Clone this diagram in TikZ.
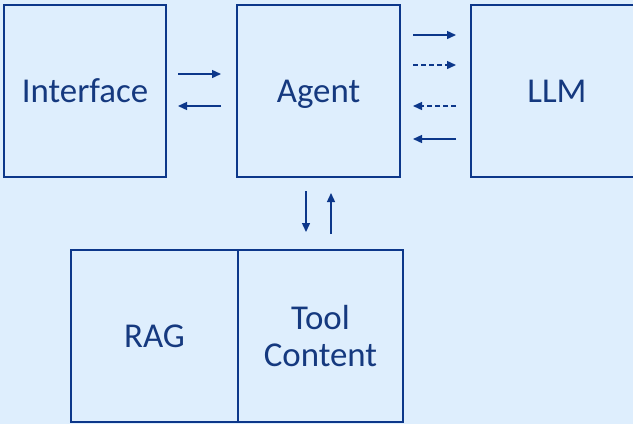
\documentclass[tikz,border=0pt]{standalone}
\usepackage{fontspec}
\setmainfont{Carlito}
\usetikzlibrary{arrows.meta}
\definecolor{bg}{HTML}{DEEEFD}
\definecolor{ln}{HTML}{0C378A}
\definecolor{tx}{HTML}{15397F}
\begin{document}
\begin{tikzpicture}[x=1bp,y=-1bp,
  box/.style={draw=ln,line width=2.6bp,inner sep=0pt,outer sep=0pt,text=tx,
    font=\fontsize{35}{42}\selectfont,align=center},
  one/.style={text height=30bp,text depth=7bp},
  arr/.style={draw=ln,line width=1.4bp,-{Triangle[length=9bp,width=8bp]}},
  dsh/.style={arr,dash pattern=on 5bp off 3bp}]
\useasboundingbox (0,0) rectangle (633,424);
\fill[bg] (0,0) rectangle (633,424);
\clip (0,0) rectangle (633,424);
\node[box,one,minimum width=162bp,minimum height=172bp] (iface) at (85,91) {Interface};
\node[box,one,minimum width=163bp,minimum height=172bp] (agent) at (318.5,91) {Agent};
\node[box,one,minimum width=172bp,minimum height=172bp] (llm) at (557,91) {LLM};
\node[box,one,minimum width=167bp,minimum height=172bp] (rag) at (154.5,336) {RAG};
\node[box,minimum width=165bp,minimum height=172bp] (tool) at (320.5,336) {Tool\\[-4bp]Content};
% Interface <-> Agent
\draw[arr] ([xshift=12bp,yshift=17bp]iface.east) -- ([xshift=-16bp,yshift=17bp]agent.west);
\draw[arr] ([xshift=-16bp,yshift=-15bp]agent.west) -- ([xshift=12bp,yshift=-15bp]iface.east);
% Agent <-> LLM
\draw[arr] ([xshift=13bp,yshift=56bp]agent.east) -- ([xshift=-15bp,yshift=56bp]llm.west);
\draw[dsh] ([xshift=13bp,yshift=26bp]agent.east) -- ([xshift=-15bp,yshift=26bp]llm.west);
\draw[dsh] ([xshift=-15bp,yshift=-15bp]llm.west) -- ([xshift=13bp,yshift=-15bp]agent.east);
\draw[arr] ([xshift=-15bp,yshift=-48bp]llm.west) -- ([xshift=13bp,yshift=-48bp]agent.east);
% Agent <-> Tool
\draw[arr] ([xshift=-12.5bp,yshift=-14bp]agent.south) -- ([xshift=-12.5bp,yshift=-55bp]agent.south);
\draw[arr] ([xshift=12.5bp,yshift=-57bp]agent.south) -- ([xshift=12.5bp,yshift=-16bp]agent.south);
\end{tikzpicture}
\end{document}
